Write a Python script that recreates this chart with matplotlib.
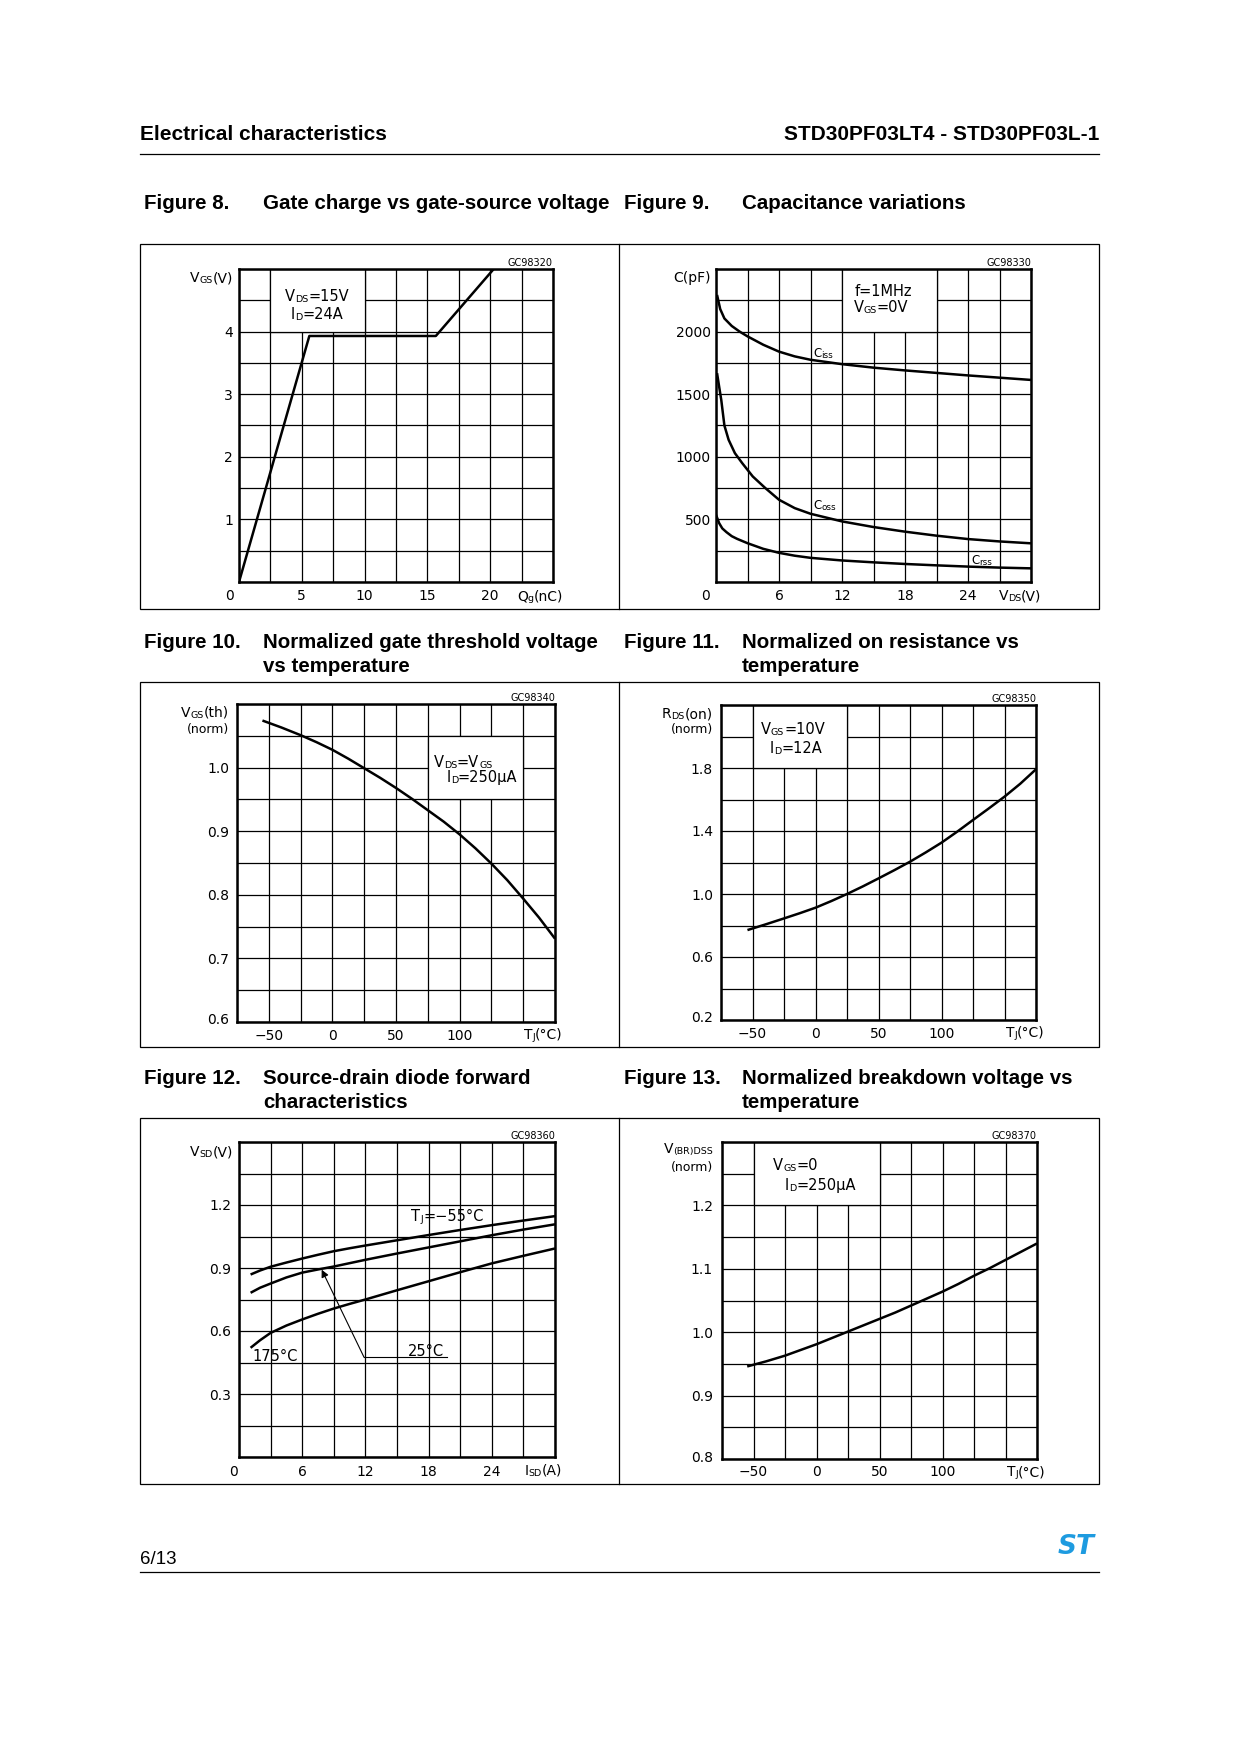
import numpy as np
import matplotlib
matplotlib.use("Agg")
import matplotlib.pyplot as plt
from matplotlib.patches import Rectangle

# ---------------- data ----------------
# Figure 8: gate charge
qg_nc = [0.0, 5.6, 15.67, 20.28]
vgs_v = [0.0, 3.93, 3.93, 5.0]
fig8_xt = [0, 5, 10, 15, 20]
fig8_yt = [1, 2, 3, 4]

# Figure 9: capacitances
vds_ciss = [0.1, 0.4, 0.8, 1.5, 2.25, 3, 4.5, 6, 7.5, 9, 12, 15, 18, 21, 24, 27, 30]
ciss_pf = [2293, 2180, 2105, 2045, 2000, 1962, 1895, 1840, 1802, 1775, 1740, 1712, 1690, 1670, 1650, 1632, 1614]
vds_coss = [0.1, 0.3, 0.5, 0.8, 1.2, 1.8, 2.5, 3.5, 4.7, 6, 7.5, 9, 12, 15, 18, 21, 24, 27, 30]
coss_pf = [1668, 1560, 1455, 1250, 1136, 1029, 949, 843, 750, 657, 590, 545, 484, 439, 402, 370, 343, 324, 309]
vds_crss = [0, 0.3, 0.6, 1, 1.5, 2, 3, 4.5, 6, 7.5, 9, 12, 15, 18, 21, 24, 27, 30]
crss_pf = [537, 470, 428, 398, 366, 345, 310, 265, 233, 210, 193, 172, 157, 144, 133, 123, 115, 109]
fig9_xt = [6, 12, 18, 24]
fig9_yt = [500, 1000, 1500, 2000]

# Figure 10: normalized gate threshold voltage
tj_vth = [-55, -40, -25, -12.5, 0, 12.5, 25, 37.5, 50, 62.5, 75, 87.5, 100, 112.5, 125, 137.5, 150, 162.5, 175]
vth_norm = [1.074, 1.063, 1.051, 1.040, 1.028, 1.014, 0.999, 0.984, 0.968, 0.951, 0.933, 0.915, 0.895,
            0.873, 0.849, 0.823, 0.794, 0.764, 0.731]
fig10_yt = [0.6, 0.7, 0.8, 0.9, 1.0]

# Figure 11: normalized on resistance
tj_rds = [-54, -40, -25, -12.5, 0, 12.5, 25, 37.5, 50, 62.5, 75, 87.5, 100, 112.5, 125, 137.5, 150, 162.5, 175]
rds_norm = [0.771, 0.806, 0.845, 0.878, 0.913, 0.955, 1.0, 1.048, 1.099, 1.151, 1.205, 1.264, 1.326,
            1.396, 1.47, 1.543, 1.618, 1.70, 1.792]
fig11_yt = [0.2, 0.6, 1.0, 1.4, 1.8]

# Figure 12: source-drain diode
isd_a = [1.1, 2, 3, 4.5, 6, 7.5, 9, 10.5, 12, 15, 18, 21, 24, 27, 30]
vsd_m55 = [0.869, 0.888, 0.906, 0.926, 0.945, 0.963, 0.980, 0.994, 1.007, 1.032, 1.057, 1.081, 1.104, 1.126, 1.147]
vsd_25 = [0.782, 0.806, 0.826, 0.855, 0.878, 0.893, 0.907, 0.923, 0.939, 0.969, 0.998, 1.027, 1.056, 1.083, 1.108]
vsd_175 = [0.520, 0.556, 0.591, 0.626, 0.655, 0.682, 0.707, 0.729, 0.750, 0.794, 0.837, 0.880, 0.922, 0.958, 0.993]
fig12_xt = [6, 12, 18, 24]
fig12_yt = [0.3, 0.6, 0.9, 1.2]

# Figure 13: normalized breakdown voltage
tj_bv = [-55, -40, -25, -12.5, 0, 12.5, 25, 37.5, 50, 62.5, 75, 87.5, 100, 112.5, 125, 137.5, 150, 162.5, 175]
bv_norm = [0.946, 0.954, 0.963, 0.972, 0.981, 0.991, 1.001, 1.011, 1.021, 1.031, 1.042, 1.053, 1.064,
           1.076, 1.089, 1.101, 1.114, 1.127, 1.140]
fig13_yt = [0.8, 0.9, 1.0, 1.1, 1.2]

temp_xt = [-50, 0, 50, 100]
temp_xl = ["\u221250", "0", "50", "100"]

# ---------------- page ----------------
W, H = 1240, 1754
plt.rcParams["font.family"] = ["DejaVu Sans"]
fig = plt.figure(figsize=(W / 100, H / 100), dpi=100)
fig.patch.set_facecolor("white")

FS = 10      # tick labels
SUB = 6.8    # small subscripts
FA = 10.5    # in-chart annotations
GC = 7
PF = ["Liberation Sans", "DejaVu Sans"]

rich_list = []


def rich(ax, xy, parts, ha="left", xycoords="data", vc=True):
    texts = []
    fs0 = parts[0][1]
    t = ax.annotate(parts[0][0], xy=xy, xycoords=xycoords, xytext=(0, 0),
                    textcoords="offset pixels", ha="left", va="baseline",
                    fontsize=fs0, annotation_clip=False, zorder=6)
    texts.append(t)
    for s, fs in parts[1:]:
        t = ax.annotate(s, xy=(1, 0), xycoords=texts[-1], xytext=(0, 0),
                        textcoords="offset pixels", ha="left", va="bottom",
                        fontsize=fs, annotation_clip=False, zorder=6)
        texts.append(t)
    rich_list.append((texts, ha, fs0, vc))


def make_axes(box, xlim, ylim, nx, ny):
    x0, y0, x1, y1 = box
    ax = fig.add_axes([x0 / W, 1 - y1 / H, (x1 - x0) / W, (y1 - y0) / H])
    ax.set_xlim(xlim)
    ax.set_ylim(ylim)
    ax.set_xticks(np.linspace(xlim[0], xlim[1], nx + 1))
    ax.set_yticks(np.linspace(ylim[0], ylim[1], ny + 1))
    ax.tick_params(length=0, labelbottom=False, labelleft=False)
    ax.grid(True, color="black", lw=0.9)
    for s in ax.spines.values():
        s.set_linewidth(1.8)
        s.set_zorder(5)
    return ax


def xlabels(ax, vals, labels, dy, dx0=None):
    for i, (v, l) in enumerate(zip(vals, labels)):
        dx = dx0 if (dx0 is not None and i == 0) else 0
        ax.annotate(l, xy=(v, 0), xycoords=("data", "axes fraction"),
                    xytext=(dx, -dy), textcoords="offset pixels",
                    ha="center", va="center_baseline", fontsize=FS,
                    annotation_clip=False)


def ylabels(ax, vals, labels, dx, bottom_up=0):
    lo = ax.get_ylim()[0]
    for v, l in zip(vals, labels):
        dy = bottom_up if abs(v - lo) < 1e-9 else 0
        ax.annotate(l, xy=(0, v), xycoords=("axes fraction", "data"),
                    xytext=(-dx, dy), textcoords="offset pixels",
                    ha="right", va="center_baseline", fontsize=FS,
                    annotation_clip=False)


def gc(ax, s):
    ax.annotate(s, xy=(1, 1), xycoords="axes fraction", xytext=(0, 7),
                textcoords="offset pixels", ha="right", va="center_baseline",
                fontsize=GC, annotation_clip=False)


def box(ax, x0, x1, y0, y1):
    ax.add_patch(Rectangle((x0, y0), x1 - x0, y1 - y0, facecolor="white",
                           edgecolor="black", lw=0.9, zorder=2))


CURVE = dict(color="black", lw=1.8, zorder=4, solid_capstyle="butt", solid_joinstyle="round")

# ---- Figure 8 ----
ax1 = make_axes((239, 269, 553, 582), (0, 25), (0, 5), 10, 10)
box(ax1, 2.5, 10, 4, 5)
ax1.plot(qg_nc, vgs_v, **CURVE)
xlabels(ax1, fig8_xt, [str(v) for v in fig8_xt], 13, dx0=-10)
ylabels(ax1, fig8_yt, [str(v) for v in fig8_yt], 6)
gc(ax1, "GC98320")
rich(ax1, (6.2, 4.58), [("V", FA), ("DS", SUB), ("=15V", FA)], "center")
rich(ax1, (6.2, 4.28), [("I", FA), ("D", SUB), ("=24A", FA)], "center")

# ---- Figure 9 ----
ax2 = make_axes((716, 269, 1031, 582), (0, 30), (0, 2500), 10, 10)
box(ax2, 12, 21, 2000, 2500)
ax2.plot(vds_ciss, ciss_pf, **CURVE)
ax2.plot(vds_coss, coss_pf, **CURVE)
ax2.plot(vds_crss, crss_pf, **CURVE)
xlabels(ax2, [0] + fig9_xt, ["0"] + [str(v) for v in fig9_xt], 13, dx0=-10)
ylabels(ax2, fig9_yt, [str(v) for v in fig9_yt], 5)
gc(ax2, "GC98330")
ax2.text(15.9, 2332, "f=1MHz", fontsize=FA, ha="center", va="center_baseline", zorder=6)
rich(ax2, (15.7, 2197), [("V", FA), ("GS", SUB), ("=0V", FA)], "center")
rich(ax2, (9.24, 1829), [("C", 8.5), ("iss", 6.3)], "left")
rich(ax2, (9.24, 615), [("C", 8.5), ("oss", 6.3)], "left")
rich(ax2, (24.3, 176), [("C", 8.5), ("rss", 6.3)], "left")

# ---- Figure 10 ----
ax3 = make_axes((237, 704, 555, 1022), (-75, 175), (0.6, 1.1), 10, 10)
box(ax3, 75, 150, 0.95, 1.05)
ax3.plot(tj_vth, vth_norm, **CURVE)
xlabels(ax3, temp_xt, temp_xl, 12)
ylabels(ax3, fig10_yt, ["%.1f" % v for v in fig10_yt], 8, bottom_up=3)
gc(ax3, "GC98340")
rich(ax3, (102.7, 1.009), [("V", FA), ("DS", SUB), ("=V", FA), ("GS", SUB)], "center")
rich(ax3, (117.6, 0.985), [("I", FA), ("D", SUB), ("=250\u03bcA", FA)], "center")

# ---- Figure 11 ----
ax4 = make_axes((721, 705, 1036, 1020), (-75, 175), (0.2, 2.2), 10, 10)
box(ax4, -50, 25, 1.8, 2.2)
ax4.plot(tj_rds, rds_norm, **CURVE)
xlabels(ax4, temp_xt, temp_xl, 12)
ylabels(ax4, fig11_yt, ["%.1f" % v for v in fig11_yt], 8, bottom_up=3)
gc(ax4, "GC98350")
rich(ax4, (-17.9, 2.048), [("V", FA), ("GS", SUB), ("=10V", FA)], "center")
rich(ax4, (-15.5, 1.927), [("I", FA), ("D", SUB), ("=12A", FA)], "center")

# ---- Figure 12 ----
ax5 = make_axes((239, 1142, 555, 1457), (0, 30), (0, 1.5), 10, 10)
ax5.plot(isd_a, vsd_m55, **CURVE)
ax5.plot(isd_a, vsd_25, **CURVE)
ax5.plot(isd_a, vsd_175, **CURVE)
xlabels(ax5, [0] + fig12_xt, ["0"] + [str(v) for v in fig12_xt], 13, dx0=-5)
ylabels(ax5, fig12_yt, ["%.1f" % v for v in fig12_yt], 8)
gc(ax5, "GC98360")
rich(ax5, (19.8, 1.148), [("T", FA), ("J", SUB), ("=\u221255\u00b0C", FA)], "center")
ax5.text(3.42, 0.487, "175\u00b0C", fontsize=FA, ha="center", va="center_baseline", zorder=6)
ax5.text(17.75, 0.511, "25\u00b0C", fontsize=FA, ha="center", va="center_baseline", zorder=6)
ax5.plot([11.87, 19.75], [0.475, 0.475], color="black", lw=0.8, zorder=4)
ax5.annotate("", xy=(7.85, 0.892), xytext=(11.87, 0.475),
             arrowprops=dict(arrowstyle="-|>", lw=0.8, color="black",
                             mutation_scale=11, shrinkA=0, shrinkB=0), zorder=4)

# ---- Figure 13 ----
ax6 = make_axes((722, 1142, 1037, 1459), (-75, 175), (0.8, 1.3), 10, 10)
box(ax6, -50, 50, 1.2, 1.3)
ax6.plot(tj_bv, bv_norm, **CURVE)
xlabels(ax6, temp_xt, temp_xl, 12)
ylabels(ax6, fig13_yt, ["%.1f" % v for v in fig13_yt], 9, bottom_up=3)
gc(ax6, "GC98370")
rich(ax6, (-16.7, 1.264), [("V", FA), ("GS", SUB), ("=0", FA)], "center")
rich(ax6, (2.8, 1.233), [("I", FA), ("D", SUB), ("=250\u03bcA", FA)], "center")

# ---------------- page overlay (pixel coordinates) ----------------
bg = fig.add_axes([0, 0, 1, 1], zorder=10)
bg.set_xlim(0, W)
bg.set_ylim(H, 0)
bg.axis("off")
bg.patch.set_alpha(0)

# axis unit labels
rich(bg, (233, 277), [("V", FS), ("GS", SUB), ("(V)", FS)], "right")
rich(bg, (540, 595), [("Q", FS), ("g", SUB), ("(nC)", FS)], "center")
bg.text(711, 277 + 0.36 * FS * 100 / 72, "C(pF)", fontsize=FS, ha="right", va="baseline")
rich(bg, (1020, 595), [("V", FS), ("DS", SUB), ("(V)", FS)], "center")

rich(bg, (229, 712), [("V", FS), ("GS", SUB), ("(th)", FS)], "right")
bg.text(229, 728 + 0.36 * 9 * 100 / 72, "(norm)", fontsize=9, ha="right", va="baseline")
rich(bg, (543, 1034), [("T", FS), ("J", SUB), ("(\u00b0C)", FS)], "center")

rich(bg, (713, 713), [("R", FS), ("DS", SUB), ("(on)", FS)], "right")
bg.text(713, 729 + 0.36 * 9 * 100 / 72, "(norm)", fontsize=9, ha="right", va="baseline")
rich(bg, (1025, 1032), [("T", FS), ("J", SUB), ("(\u00b0C)", FS)], "center")

rich(bg, (233, 1151), [("V", FS), ("SD", SUB), ("(V)", FS)], "right")
rich(bg, (543, 1470), [("I", FS), ("SD", SUB), ("(A)", FS)], "center")

rich(bg, (713, 1148), [("V", FS), ("(BR)DSS", SUB)], "right")
bg.text(713, 1166 + 0.36 * 9 * 100 / 72, "(norm)", fontsize=9, ha="right", va="baseline")
rich(bg, (1026, 1471), [("T", FS), ("J", SUB), ("(\u00b0C)", FS)], "center")

# header / captions / footer
HF = 15
CF = 14.75
bl = 0.36 * HF * 100 / 72
cbl = 0.36 * CF * 100 / 72
bg.text(140, 132 + bl, "Electrical characteristics", fontsize=HF, fontweight="bold",
        family=PF, ha="left", va="baseline")
bg.text(1099, 132 + bl, "STD30PF03LT4 - STD30PF03L-1", fontsize=HF, fontweight="bold",
        family=PF, ha="right", va="baseline")
bg.plot([140, 1099], [154, 154], color="black", lw=0.9)

captions = [
    (202, 144, "Figure 8.", 263, ["Gate charge vs gate-source voltage"]),
    (202, 624, "Figure 9.", 742, ["Capacitance variations"]),
    (641, 144, "Figure 10.", 263, ["Normalized gate threshold voltage", "vs temperature"]),
    (641, 624, "Figure 11.", 742, ["Normalized on resistance vs", "temperature"]),
    (1077, 144, "Figure 12.", 263, ["Source-drain diode forward", "characteristics"]),
    (1077, 624, "Figure 13.", 742, ["Normalized breakdown voltage vs", "temperature"]),
]
for yc, xf, lab, xt, lines in captions:
    bg.text(xf, yc + cbl, lab, fontsize=CF, fontweight="bold", family=PF, va="baseline")
    for k, ln in enumerate(lines):
        bg.text(xt, yc + 24 * k + cbl, ln, fontsize=CF, fontweight="bold", family=PF, va="baseline")

# chart frames
for (y0, y1) in [(244, 609), (682, 1047), (1118, 1484)]:
    bg.add_patch(Rectangle((140, y0), 959, y1 - y0, fill=False, edgecolor="black", lw=0.9))
    bg.plot([619, 619], [y0, y1], color="black", lw=0.9)

# footer
bg.text(140, 1557 + 0.36 * 13.5 * 100 / 72, "6/13", fontsize=13.5, family=PF, va="baseline")
bg.plot([140, 1099], [1572, 1572], color="black", lw=0.9)
bg.text(1076, 1547, "ST", fontsize=19, fontweight="bold", style="italic",
        color="#1E9BE0", ha="center", va="center")

# ---- align rich texts ----
fig.canvas.draw()
r = fig.canvas.get_renderer()
for texts, ha, fs0, vc in rich_list:
    w = texts[-1].get_window_extent(r).x1 - texts[0].get_window_extent(r).x0
    dx = {"left": 0, "center": -w / 2, "right": -w}[ha]
    dy = -0.36 * fs0 * 100 / 72 if vc else 0
    texts[0].xyann = (dx, dy)

fig.savefig("out.png", dpi=100, facecolor="white")
